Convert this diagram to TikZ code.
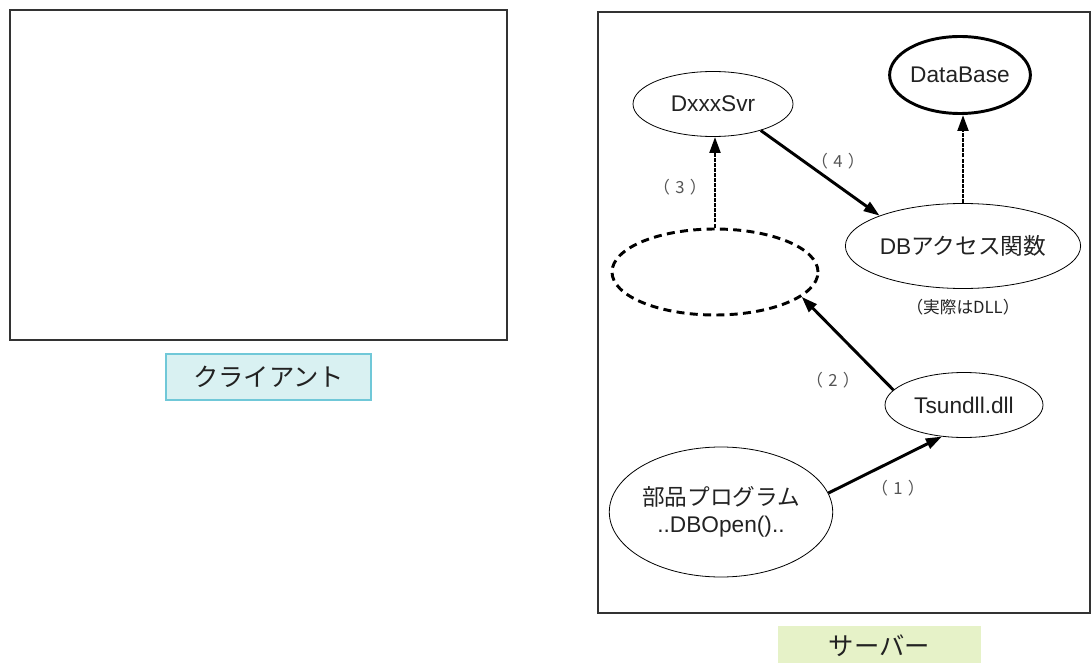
\documentclass[tikz,border=0pt]{standalone}
\usepackage{fontspec}
\setmainfont{Liberation Sans}
\newfontfamily\cjk{Noto Sans CJK JP}
\usetikzlibrary{shapes.geometric,arrows.meta}
\definecolor{frame}{HTML}{333333}
\definecolor{ink}{HTML}{222222}
\definecolor{lbl}{HTML}{555555}
\definecolor{cfill}{HTML}{D9F1F2}
\definecolor{cdraw}{HTML}{70C8D8}
\definecolor{sfill}{HTML}{E6F2C8}
\newcommand{\numlbl}[1]{（\hspace{4pt}#1\hspace{4pt}）}
\tikzset{
  area/.style={draw=frame,line width=1.2pt},
  oval/.style={ellipse,draw=black,line width=0.6pt,inner sep=0pt,text=ink,font=\fontsize{17}{20}\selectfont},
  arr/.style={line width=2.2pt,-{Triangle[length=12pt,width=8pt]}},
  dotarr/.style={arr,dash pattern=on 3pt off 0.8pt},
  num/.style={text=lbl,font=\cjk\fontsize{12.5}{14}\selectfont},
  tag/.style={text=ink,font=\cjk\fontsize{19}{22}\selectfont,inner sep=0pt}
}
\begin{document}
\begin{tikzpicture}[x=0.75pt,y=-0.75pt]
\useasboundingbox (0,0) rectangle (1092,663);
% client
\draw[area] (10,10) rectangle (507,340);
\draw[draw=cdraw,fill=cfill,line width=1pt] (166,354) rectangle (371,400);
\node[tag] (client) at (268.5,377) {クライアント};
% server
\draw[area] (598,12) rectangle (1090,613);
\fill[sfill] (778,626) rectangle (981,663);
\node[tag] (server) at (879.5,646) {サーバー};
% nodes
\node[oval,minimum width=120pt,minimum height=48.75pt] (dxxx) at (713,104) {DxxxSvr};
\node[oval,line width=2.2pt,minimum width=99.75pt,minimum height=57.75pt] (db) at (960,75) {DataBase};
\node[oval,line width=2.2pt,dash pattern=on 6pt off 4pt,minimum width=154.5pt,minimum height=64.5pt] (dsh) at (715,272) {};
\node[oval,minimum width=154.5pt,minimum height=63.75pt] (dba) at (963,246) {DB{\cjk アクセス関数}};
\node[text=ink,font=\cjk\fontsize{12.5}{14}\selectfont] (real) at (963,307) {（実際はDLL）};
\node[oval,minimum width=118.5pt,minimum height=48.75pt] (tsun) at (964,405) {Tsundll.dll};
\node[oval,minimum width=166.5pt,minimum height=97.5pt,align=center] (buhin) at (721,512) {{\cjk 部品プログラム}\\..DBOpen()..};
% connectors
\draw[arr] (buhin.10) -- (tsun.235);
\draw[arr] (tsun.168) -- (dsh.344);
\draw[dotarr] (dsh.north) -- (dsh.north |- dxxx.south);
\draw[arr] (dxxx.331) -- (dba.160);
\draw[dotarr] (dba.north) -- (dba.north |- db.south);
% labels
\node[num] (n1) at (898,488) {\numlbl{1}};
\node[num] (n2) at (833,380) {\numlbl{2}};
\node[num] (n3) at (680,187) {\numlbl{3}};
\node[num] (n4) at (838,161) {\numlbl{4}};
\end{tikzpicture}
\end{document}
